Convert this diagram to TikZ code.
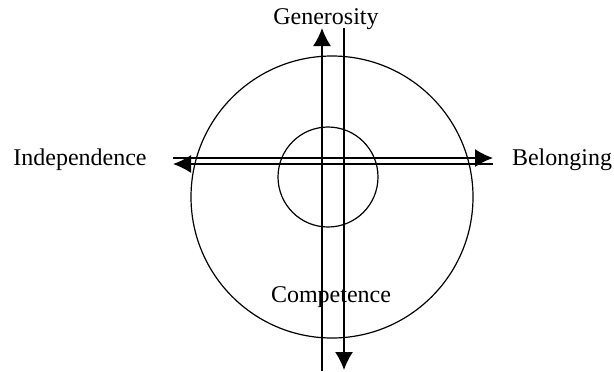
\documentclass[tikz,border=0pt]{standalone}
\usepackage{fontspec}
\setmainfont{Liberation Serif}
\usetikzlibrary{arrows.meta}
\tikzset{
  eje/.style={line width=0.8pt,-{Latex[length=9pt,width=9pt]}},
  etiqueta/.style={font=\fontsize{12}{14}\selectfont},
}
\begin{document}
\begin{tikzpicture}[x=0.5pt,y=-0.5pt]
  \useasboundingbox (0,0) rectangle (614,371);
  % Circulos
  \draw[line width=0.6pt] (332,197) circle (141);
  \draw[line width=0.6pt] (328,177) circle (50);

  % Extremos de los ejes
  \coordinate (g1) at (322,371);
  \coordinate (g2) at (322,28);
  \coordinate (c1) at (344,28);
  \coordinate (c2) at (344,370);
  \coordinate (b1) at (173,158);
  \coordinate (b2) at (493,158);
  \coordinate (i1) at (493,164);
  \coordinate (i2) at (173,164);

  \draw[eje] (g1) -- (g2);
  \draw[eje] (c1) -- (c2);
  \draw[eje] (b1) -- (b2);
  \draw[eje] (i1) -- (i2);

  % Etiquetas
  \node[etiqueta] (gen) at (326,19) {Generosity};
  \node[etiqueta] (ind) at (80,160) {Independence};
  \node[etiqueta] (bel) at (562,160) {Belonging};
  \node[etiqueta] (com) at (331,297) {Competence};
\end{tikzpicture}
\end{document}
